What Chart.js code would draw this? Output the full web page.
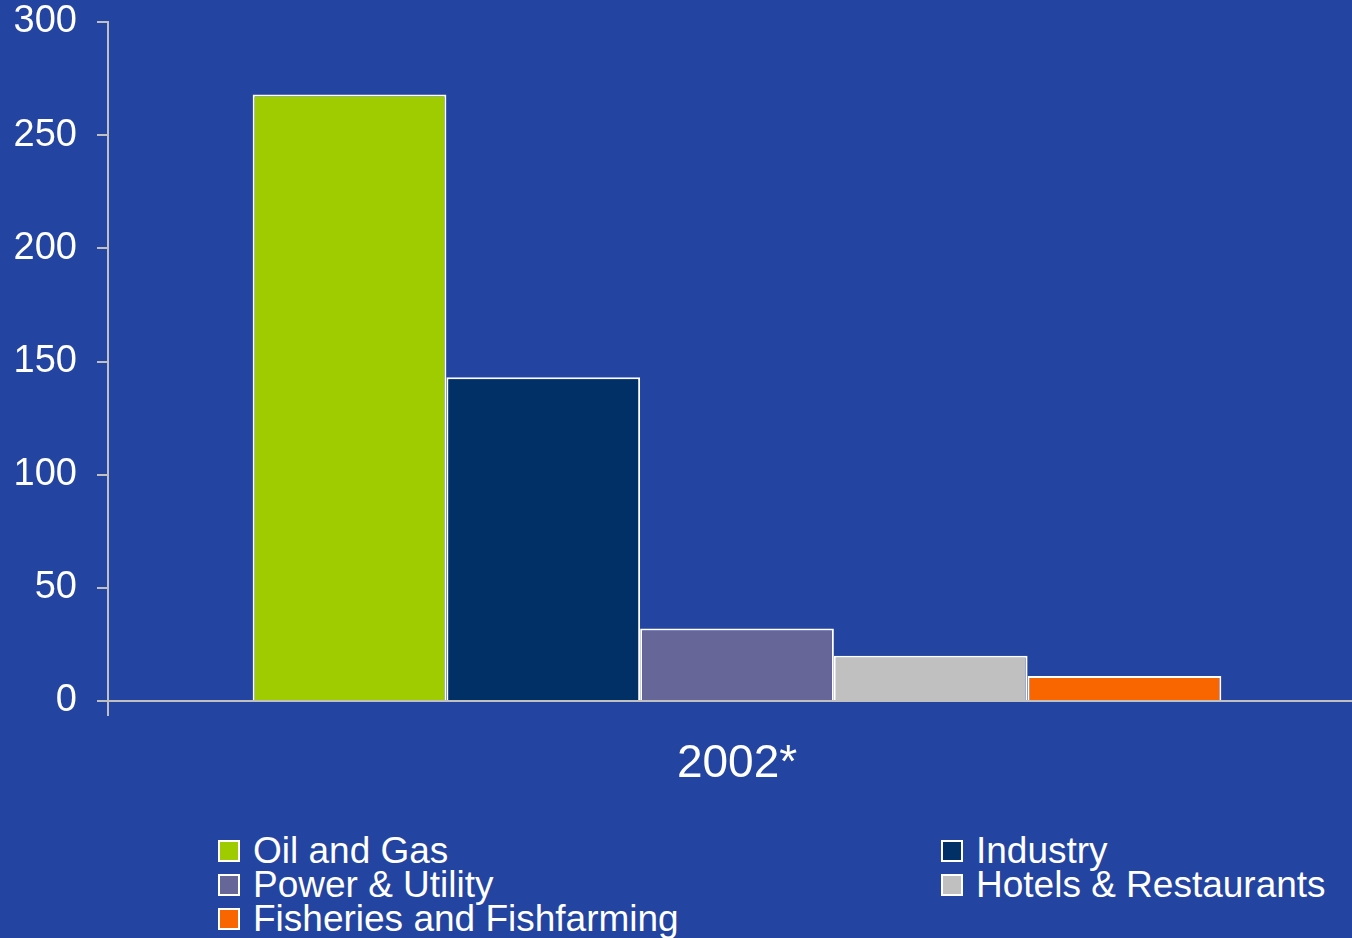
<!DOCTYPE html>
<html>
<head>
<meta charset="utf-8">
<script src="https://cdn.jsdelivr.net/npm/chart.js@4/dist/chart.umd.min.js"></script>
<style>
  body { margin: 0; background: #2344A0; width: 1352px; height: 938px; overflow: hidden; font-family: "Liberation Sans", Arial, sans-serif; position: relative; }
  #wrap { position: absolute; left: 0; top: 0; width: 1366px; height: 792px; }
  #legend { position: absolute; left: 218px; top: 834px; display: grid; grid-template-columns: 723px auto; grid-auto-rows: 34px; color: #fff; font-size: 37px; }
  .item { display: flex; align-items: center; line-height: 34px; white-space: nowrap; }
  .box { width: 18px; height: 18px; border: 2px solid #fff; margin-right: 13px; }
</style>
</head>
<body>
<div id="wrap"><canvas id="myChart"></canvas></div>
<div id="legend"></div>
<script>
categories = ["2002*"];
sectors = ["Oil and Gas", "Industry", "Power & Utility", "Hotels & Restaurants", "Fisheries and Fishfarming"];
values = [268, 143, 32, 20, 11];
colors = ["#9ECC00", "#003066", "#666699", "#C0C0C0", "#F96600"];
yTicks = [0, 50, 100, 150, 200, 250, 300];

function buildLegend() {
  const el = document.getElementById('legend');
  sectors.forEach((name, i) => {
    const item = document.createElement('div');
    item.className = 'item';
    const box = document.createElement('span');
    box.className = 'box';
    box.style.background = colors[i];
    item.appendChild(box);
    item.appendChild(document.createTextNode(name));
    el.appendChild(item);
  });
}

function displayData() {
  const ctx = document.getElementById('myChart');

  new Chart(ctx, {
    type: 'bar',
    data: {
      labels: categories,
      datasets: sectors.map((name, i) => ({
        label: name,
        data: [values[i]],
        backgroundColor: colors[i],
        borderColor: "#ffffff",
        borderWidth: 2,
        categoryPercentage: 0.77,
        barPercentage: 1
      }))
    },
    options: {
      responsive: true,
      maintainAspectRatio: false,
      animation: false,
      layout: { padding: { top: 22, right: 0, left: 0, bottom: 0 } },
      plugins: { legend: { display: false }, tooltip: { enabled: false } },
      scales: {
        x: {
          z: 1,
          afterFit: (scale) => { scale.height = 91; },
          grid: { drawOnChartArea: false, color: "#C0C0C0", lineWidth: 2, tickLength: 15 },
          border: { color: "#C0C0C0", width: 2 },
          ticks: { color: "#fff", font: { family: "Liberation Sans", size: 46 }, padding: 21 }
        },
        y: {
          z: 1,
          min: 0,
          max: 300,
          afterBuildTicks: (scale) => { scale.ticks = yTicks.map(v => ({ value: v })); },
          afterFit: (scale) => { scale.width = 108; scale.paddingTop = 0; scale.paddingBottom = 0; },
          grid: { drawOnChartArea: false, color: "#C0C0C0", lineWidth: 2, tickLength: 11 },
          border: { color: "#C0C0C0", width: 2 },
          ticks: { color: "#fff", font: { family: "Liberation Sans", size: 38 }, padding: 20 }
        }
      }
    }
  });
}

buildLegend();
displayData();
</script>
</body>
</html>
